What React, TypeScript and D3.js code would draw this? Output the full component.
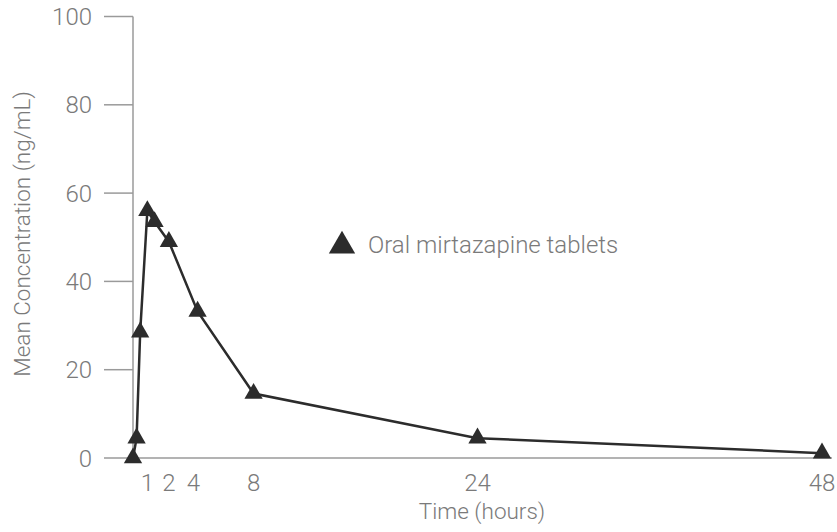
// Mean plasma concentration after oral mirtazapine tablets
import React from 'react';
import * as d3 from 'd3';

// Sampling times (hours) and mean concentrations (ng/mL)
const times = [0, 0.25, 0.5, 1, 1.5, 2.5, 4.5, 8.4, 24, 48];
const concentrations = [0, 4.5, 28.5, 56, 53.5, 49, 33.2, 14.6, 4.5, 1.1];

// x tick positions (in hours, as placed in the figure) and their labels
const xTickValues = [1, 2.5, 4.2, 8.4, 24, 48];
const xTickLabels = ['1', '2', '4', '8', '24', '48'];
const yTicks = [0, 20, 40, 60, 80, 100];

const seriesName = 'Oral mirtazapine tablets';

const W = 837;
const H = 532;
const margin = { top: 16.5, right: 15, bottom: 74, left: 133 };

const FONT = 'Roboto, "Liberation Sans", sans-serif';
const AXIS = '#9a9a9a';
const TEXT = '#7a7a7a';
const INK = '#2c2c2c';

const App: React.FC = () => {
  const x = d3.scaleLinear().domain([0, 48]).range([margin.left, 822]);
  const y = d3.scaleLinear().domain([0, 100]).range([H - margin.bottom, margin.top]);

  const data = times.map((t, i) => ({ t, c: concentrations[i] }));

  const line = d3
    .line<{ t: number; c: number }>()
    .x((d) => x(d.t))
    .y((d) => y(d.c));

  const marker = d3.symbol(d3.symbolTriangle, 145)() || '';
  const legendMarker = d3.symbol(d3.symbolTriangle, 300)() || '';

  const x0 = margin.left;
  const y0 = y(0);

  return (
    <svg
      width={W}
      height={H}
      style={{ position: 'absolute', left: 0, top: 0, background: '#fff' }}
      fontFamily={FONT}
    >
      {/* y axis */}
      <line x1={x0} x2={x0} y1={y(100)} y2={y0} stroke={AXIS} strokeWidth={1.5} />
      {yTicks.map((v) => (
        <g key={v}>
          <line x1={x0 - 29} x2={x0} y1={y(v)} y2={y(v)} stroke={AXIS} strokeWidth={1.5} />
          <text
            x={x0 - 41}
            y={y(v)}
            dy="0.36em"
            textAnchor="end"
            fontSize={24}
            fontWeight={300}
            fill={TEXT}
          >
            {v}
          </text>
        </g>
      ))}

      {/* x axis */}
      <line x1={x0} x2={832} y1={y0} y2={y0} stroke={AXIS} strokeWidth={1.5} />
      {xTickValues.map((v, i) => (
        <text
          key={v}
          x={x(v)}
          y={491}
          textAnchor="middle"
          fontSize={24}
          fontWeight={300}
          fill={TEXT}
        >
          {xTickLabels[i]}
        </text>
      ))}

      {/* axis titles */}
      <text x={482} y={519} textAnchor="middle" fontSize={22.5} fontWeight={300} fill={TEXT}>
        Time (hours)
      </text>
      <text
        transform={`translate(22,234) rotate(-90)`}
        textAnchor="middle"
        dy="0.35em"
        fontSize={22.5}
        fontWeight={300}
        fill={TEXT}
      >
        Mean Concentration (ng/mL)
      </text>

      {/* series */}
      <path d={line(data) || ''} fill="none" stroke={INK} strokeWidth={2.5} />
      {data.map((d, i) => (
        <path key={i} d={marker} transform={`translate(${x(d.t)},${y(d.c)})`} fill={INK} />
      ))}

      {/* legend */}
      <path d={legendMarker} transform="translate(342,246)" fill={INK} />
      <text x={368} y={253} fontSize={24} fontWeight={300} fill={TEXT}>
        {seriesName}
      </text>
    </svg>
  );
};

export default App;
